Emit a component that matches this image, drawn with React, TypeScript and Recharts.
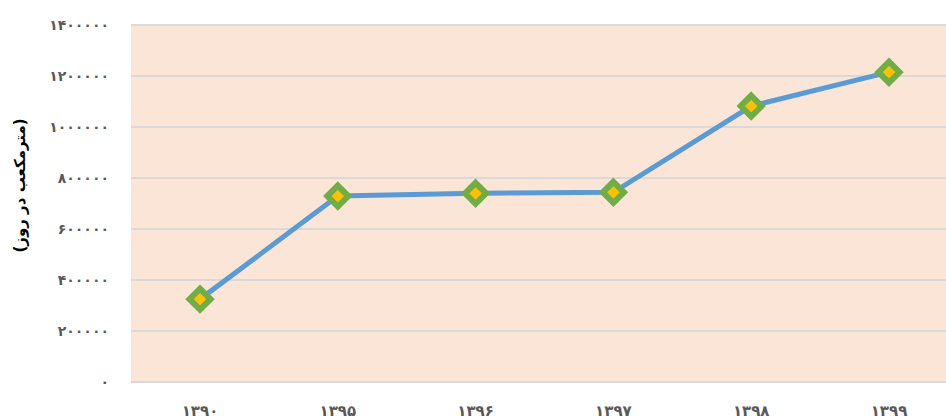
import React from 'react';
import { CartesianGrid, Line, LineChart, XAxis, YAxis } from 'recharts';

const years = ['1390', '1395', '1396', '1397', '1398', '1399'];
const volumes = [325000, 729000, 740000, 744000, 1082000, 1215000];
const yTicks = [0, 200000, 400000, 600000, 800000, 1000000, 1200000, 1400000];

const data = years.map((year, i) => ({ year, volume: volumes[i] }));

const toPersian = (v: string | number) =>
  String(v).replace(/[0-9]/g, (d) => '۰۱۲۳۴۵۶۷۸۹'[Number(d)]);

const Diamond = (props: any) => {
  const { cx, cy } = props;
  if (cx == null || cy == null) return null;
  const r = 10.5;
  const pts = `${cx},${cy - r} ${cx + r},${cy} ${cx},${cy + r} ${cx - r},${cy}`;
  return <polygon points={pts} fill="#FFC000" stroke="#70AD47" strokeWidth={6} strokeLinejoin="miter" />;
};

const AxisTitle = (props: any) => {
  const { viewBox } = props;
  const x = 20;
  const y = viewBox.y + viewBox.height / 2 - 18;
  return (
    <text
      x={x}
      y={y}
      transform={`rotate(-90, ${x}, ${y})`}
      textAnchor="middle"
      dominantBaseline="central"
      fill="#000"
      fontSize={15}
      fontWeight={700}
      fontFamily="DejaVu Sans"
    >
      (مترمکعب در روز)
    </text>
  );
};

const tickStyle = { fill: '#595959', fontSize: 14, fontWeight: 700, fontFamily: 'DejaVu Sans' };

const App: React.FC = () => {
  return (
    <>
      <style>{'html,body{margin:0;padding:0;overflow:hidden;}'}</style>
      <div style={{ position: 'absolute', left: 0, top: 0, width: 946, height: 419, overflow: 'hidden', background: '#fff' }}>
        <LineChart width={958} height={419} data={data} margin={{ top: 25, right: 0, left: 0, bottom: 0 }}>
          <CartesianGrid vertical={false} stroke="#d9d9d9" strokeWidth={2} fill="#FBE5D6" fillOpacity={1} />
          <XAxis
            dataKey="year"
            height={37}
            padding={{ left: 69, right: 69 }}
            tickFormatter={toPersian}
            tickLine={false}
            axisLine={{ stroke: '#d9d9d9', strokeWidth: 2 }}
            tickSize={0}
            tickMargin={23}
            tick={{ ...tickStyle, fontSize: 15 }}
          />
          <YAxis
            width={131}
            domain={[0, 1400000]}
            ticks={yTicks}
            interval={0}
            tickFormatter={toPersian}
            tickLine={false}
            axisLine={false}
            tickSize={0}
            tickMargin={22}
            tick={tickStyle}
            label={<AxisTitle />}
          />
          <Line
            type="linear"
            dataKey="volume"
            stroke="#5B9BD5"
            strokeWidth={5}
            dot={<Diamond />}
            activeDot={false}
            isAnimationActive={false}
          />
        </LineChart>
      </div>
    </>
  );
};

export default App;
